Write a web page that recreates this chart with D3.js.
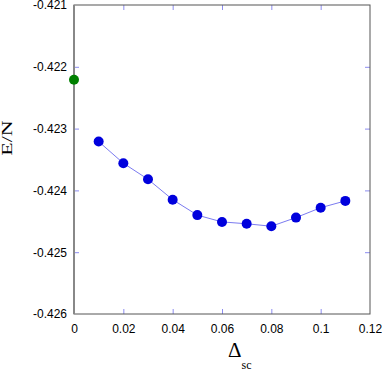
<!DOCTYPE html>
<html>
<head>
<meta charset="utf-8">
<script src="https://cdn.jsdelivr.net/npm/d3@7"></script>
<style>
  body { margin: 0; background: #fff; }
  text { font-family: "Liberation Sans", Arial, sans-serif; }
</style>
</head>
<body>
<div class="chart"></div>
<script>
// data
const deltaSc = [0.01, 0.02, 0.03, 0.04, 0.05, 0.06, 0.07, 0.08, 0.09, 0.10, 0.11];
const energy = [-0.42321, -0.42356, -0.42382, -0.42415, -0.42440, -0.42451, -0.42454, -0.42458, -0.42444, -0.42428, -0.42417];
const refX = [0];
const refE = [-0.42221];
const xTicks = [0, 0.02, 0.04, 0.06, 0.08, 0.1, 0.12];
const yTicks = [-0.421, -0.422, -0.423, -0.424, -0.425, -0.426];
const yMinor = [-0.42161, -0.42280];

const width = 382, height = 371;
const margin = { left: 74, right: 12, top: 5, bottom: 57 };

const svg = d3.select(".chart").append("svg")
  .attr("width", width)
  .attr("height", height);

const x = d3.scaleLinear().domain([0, 0.12]).range([margin.left, width - margin.right]);
const y = d3.scaleLinear().domain([-0.426, -0.421]).range([height - margin.bottom, margin.top]);

const tickCol = "#8c8cf0";

// inward ticks on all four sides
svg.append("g")
  .attr("transform", "translate(0," + y(-0.426) + ")")
  .call(d3.axisBottom(x).tickValues(xTicks).tickSize(-5).tickPadding(10)
    .tickFormat(d => String(+d.toFixed(2))))
  .call(g => g.select(".domain").remove())
  .call(g => g.selectAll("line").attr("stroke", tickCol).filter(d => d === 0 || d === 0.12).remove())
  .call(g => g.selectAll("text").attr("font-size", 12).attr("fill", "#000"));

svg.append("g")
  .attr("transform", "translate(0," + y(-0.421) + ")")
  .call(d3.axisTop(x).tickValues(xTicks.slice(1, -1)).tickSize(-5).tickFormat(""))
  .call(g => g.select(".domain").remove())
  .call(g => g.selectAll("line").attr("stroke", tickCol));

svg.append("g")
  .attr("transform", "translate(" + x(0) + ",0)")
  .call(d3.axisLeft(y).tickValues(yTicks).tickSize(-5).tickPadding(7).tickFormat(d => d.toFixed(3)))
  .call(g => g.select(".domain").remove())
  .call(g => g.selectAll("line").attr("stroke", tickCol).filter(d => d === -0.421 || d === -0.426).remove())
  .call(g => g.selectAll("text").attr("font-size", 12).attr("fill", "#000"));

svg.append("g")
  .attr("transform", "translate(" + x(0.12) + ",0)")
  .call(d3.axisRight(y).tickValues(yTicks.slice(1, -1)).tickSize(-5).tickFormat(""))
  .call(g => g.select(".domain").remove())
  .call(g => g.selectAll("line").attr("stroke", tickCol));

// small reddish marks on the left edge
svg.selectAll(".minor").data(yMinor).enter().append("line")
  .attr("x1", x(0) - 1).attr("x2", x(0) + 1)
  .attr("y1", d => y(d)).attr("y2", d => y(d))
  .attr("stroke", "#c06080");

// frame
svg.append("rect")
  .attr("x", x(0)).attr("y", y(-0.421))
  .attr("width", x(0.12) - x(0))
  .attr("height", y(-0.426) - y(-0.421))
  .attr("fill", "none")
  .attr("stroke", "#555")
  .attr("stroke-width", 1);
svg.append("line")
  .attr("x1", x(0)).attr("x2", x(0))
  .attr("y1", y(-0.421)).attr("y2", y(-0.426))
  .attr("stroke", "#888").attr("stroke-width", 2);

// series
const pts = deltaSc.map((d, i) => [d, energy[i]]);
svg.append("path")
  .datum(pts)
  .attr("fill", "none")
  .attr("stroke", "#7b7bf0")
  .attr("stroke-width", 1)
  .attr("d", d3.line().x(d => x(d[0])).y(d => y(d[1])));

svg.selectAll(".pt").data(pts).enter().append("circle")
  .attr("cx", d => x(d[0]))
  .attr("cy", d => y(d[1]))
  .attr("r", 5)
  .attr("fill", "#0000dd");

svg.selectAll(".ref").data(refX).enter().append("circle")
  .attr("cx", d => x(d))
  .attr("cy", (d, i) => y(refE[i]))
  .attr("r", 5)
  .attr("fill", "#008000");

// axis titles
svg.append("text")
  .attr("transform", "translate(12,138) rotate(-90) scale(1,0.7)")
  .attr("text-anchor", "middle")
  .style("font-family", "'Liberation Serif', 'Times New Roman', serif")
  .attr("font-size", 22)
  .text("E/N");

const xt = svg.append("text")
  .attr("x", 228).attr("y", 357)
  .style("font-family", "'Liberation Serif', 'Times New Roman', serif");
xt.append("tspan").attr("font-size", 21).text("Δ");
xt.append("tspan").attr("font-size", 12).attr("dy", 12).text("sc");
</script>
</body>
</html>
